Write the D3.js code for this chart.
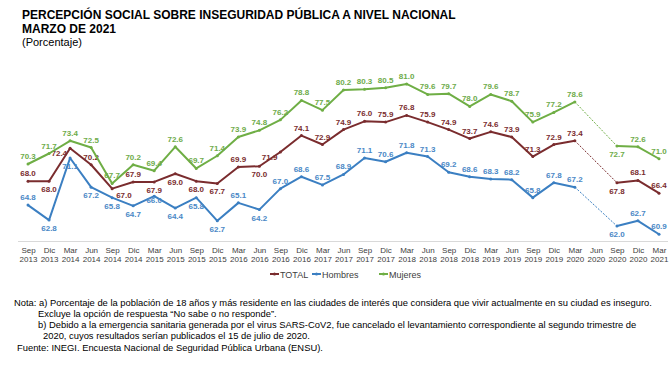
<!DOCTYPE html>
<html>
<head>
<meta charset="utf-8">
<script src="https://cdn.jsdelivr.net/npm/d3@7"></script>
<style>
  body { margin: 0; background: #fff; }
  svg { font-family: "Liberation Sans", Arial, sans-serif; }
</style>
</head>
<body>
<svg id="chart" width="672" height="371"></svg>
<script>
const months = ['Sep','Dic','Mar','Jun','Sep','Dic','Mar','Jun','Sep','Dic','Mar','Jun','Sep','Dic','Mar','Jun',
  'Sep','Dic','Mar','Jun','Sep','Dic','Mar','Jun','Sep','Dic','Mar','Jun','Sep','Dic','Mar'];
const years = ['2013','2013','2014','2014','2014','2014','2015','2015','2015','2015','2016','2016','2016','2016','2017','2017',
  '2017','2017','2018','2018','2018','2018','2019','2019','2019','2019','2020','2020','2020','2020','2021'];

const total = [68.0, 68.0, 72.4, 70.2, 67.0, 67.9, 67.9, 69.0, 68.0, 67.7, 69.9, 70.0, 71.9, 74.1, 72.9, 74.9,
  76.0, 75.9, 76.8, 75.9, 74.9, 73.7, 74.6, 73.9, 71.3, 72.9, 73.4, null, 67.8, 68.1, 66.4];
const hombres = [64.8, 62.8, 71.1, 67.2, 65.8, 64.7, 66.0, 64.4, 65.8, 62.7, 65.1, 64.2, 67.0, 68.6, 67.5, 68.9,
  71.1, 70.6, 71.8, 71.3, 69.2, 68.6, 68.3, 68.2, 65.8, 67.8, 67.2, null, 62.0, 62.7, 60.9];
const mujeres = [70.3, 71.7, 73.4, 72.5, 67.7, 70.2, 69.4, 72.6, 69.7, 71.4, 73.9, 74.8, 76.2, 78.8, 77.5, 80.2,
  80.3, 80.5, 81.0, 79.6, 79.7, 78.0, 79.6, 78.7, 75.9, 77.2, 78.6, null, 72.7, 72.6, 71.0];

// label side per point: a = above, b = below, l = left, r = right, c = on the point
const totalSide = 'ablarabbbbablaaaaaaaaaaaaaa-baa'.split('');
const hombresSide = 'abbbbbcbbbabaaaaaaaaaaaaaaa-baa'.split('');
const mujeresSide = 'aaaaaaaaaaaaaaaaaaaaaaaaaaa-baa'.split('');

const series = [
  { name: 'TOTAL', values: total, side: totalSide, color: '#7a2c2e', label: '#7a2c2e' },
  { name: 'Hombres', values: hombres, side: hombresSide, color: '#3b7fc2', label: '#4a88c6' },
  { name: 'Mujeres', values: mujeres, side: mujeresSide, color: '#6fae45', label: '#6eab4a' }
];

const svg = d3.select('#chart');

const x = d3.scalePoint().domain(d3.range(months.length)).range([28, 659]);
const y = d3.scaleLinear().domain([60, 82]).range([241, 76.5]);

// title
const title = svg.append('g').attr('fill', '#000');
title.append('text').attr('x', 22).attr('y', 19)
  .attr('font-weight', 'bold').attr('font-size', '12px')
  .text('PERCEPCIÓN SOCIAL SOBRE INSEGURIDAD PÚBLICA A NIVEL NACIONAL');
title.append('text').attr('x', 22).attr('y', 33)
  .attr('font-weight', 'bold').attr('font-size', '12px')
  .text('MARZO DE 2021');
title.append('text').attr('x', 22).attr('y', 46)
  .attr('font-size', '11px')
  .text('(Porcentaje)');

// x axis
const axis = svg.append('g')
  .attr('transform', 'translate(0,241)')
  .call(d3.axisBottom(x).tickSize(0).tickPadding(0).tickFormat(''));
axis.select('.domain').attr('stroke', '#d9d9d9').attr('d', 'M18,0.5H668');
axis.selectAll('.tick text').remove();
axis.selectAll('.tick').append('text')
  .attr('fill', '#404040')
  .attr('font-size', '8px')
  .attr('text-anchor', 'middle')
  .each(function(i) {
    const t = d3.select(this);
    t.append('tspan').attr('x', 0).attr('y', 12).text(months[i]);
    t.append('tspan').attr('x', 0).attr('y', 21).text(years[i]);
  });

const line = d3.line()
  .defined(d => d != null)
  .x((d, i) => x(i))
  .y(d => y(d));

series.forEach(s => {
  const g = svg.append('g');
  // dotted bridge across the missing survey
  g.append('line')
    .attr('x1', x(26)).attr('y1', y(s.values[26]))
    .attr('x2', x(28)).attr('y2', y(s.values[28]))
    .attr('stroke', s.color).attr('stroke-width', 1)
    .attr('stroke-dasharray', '2,1.5');

  g.append('path')
    .datum(s.values)
    .attr('fill', 'none')
    .attr('stroke', s.color)
    .attr('stroke-width', 2)
    .attr('stroke-linejoin', 'round')
    .attr('d', line);

  const pts = s.values.map((v, i) => ({ v, i })).filter(d => d.v != null);

  g.selectAll('circle').data(pts).enter().append('circle')
    .attr('cx', d => x(d.i)).attr('cy', d => y(d.v))
    .attr('r', 1.5).attr('fill', s.color);

  g.selectAll('.lbl').data(pts).enter().append('text')
    .attr('class', 'lbl')
    .attr('fill', s.label)
    .attr('font-size', '8px')
    .attr('font-weight', 'bold')
    .attr('text-anchor', d => s.side[d.i] === 'l' ? 'end' : (s.side[d.i] === 'r' ? 'start' : 'middle'))
    .attr('x', d => {
      const side = s.side[d.i];
      if (side === 'l') return x(d.i) - 3;
      if (side === 'r') return x(d.i) + 4;
      return x(d.i);
    })
    .attr('y', d => {
      const side = s.side[d.i];
      if (side === 'a') return y(d.v) - 5;
      if (side === 'b') return y(d.v) + 11;
      if (side === 'l') return y(d.v) + 8;
      if (side === 'c') return y(d.v) + 7;
      return y(d.v) + 9;
    })
    .text(d => d.v.toFixed(1));
});

// legend
const legendX = [270, 312, 379];
const legend = svg.append('g').attr('transform', 'translate(0,274)');
series.forEach((s, i) => {
  const lg = legend.append('g').attr('transform', 'translate(' + legendX[i] + ',0)');
  lg.append('line').attr('x1', 0).attr('x2', 9).attr('y1', 0).attr('y2', 0)
    .attr('stroke', s.color).attr('stroke-width', 2);
  lg.append('circle').attr('cx', 4.5).attr('cy', 0).attr('r', 1.5).attr('fill', s.color);
  lg.append('text').attr('x', 10).attr('y', 3.5)
    .attr('font-size', '9px').attr('fill', '#404040')
    .text(s.name);
});

// notes
const notes = [
  { x: 14, y: 306, t: 'Nota: a) Porcentaje de la población de 18 años y más residente en las ciudades de interés que considera que vivir actualmente en su ciudad es inseguro.' },
  { x: 38, y: 317, t: 'Excluye la opción de respuesta “No sabe o no responde”.' },
  { x: 38, y: 328, t: 'b)  Debido a la emergencia sanitaria generada por el virus SARS-CoV2, fue cancelado el levantamiento correspondiente al segundo trimestre de' },
  { x: 43, y: 339, t: '2020, cuyos resultados serían publicados el 15 de julio de 2020.' },
  { x: 17, y: 351, t: 'Fuente: INEGI. Encuesta Nacional de Seguridad Pública Urbana (ENSU).' }
];
svg.append('g').selectAll('text').data(notes).enter().append('text')
  .attr('x', d => d.x).attr('y', d => d.y)
  .attr('font-size', '9.4px').attr('fill', '#000')
  .text(d => d.t);
</script>
</body>
</html>
